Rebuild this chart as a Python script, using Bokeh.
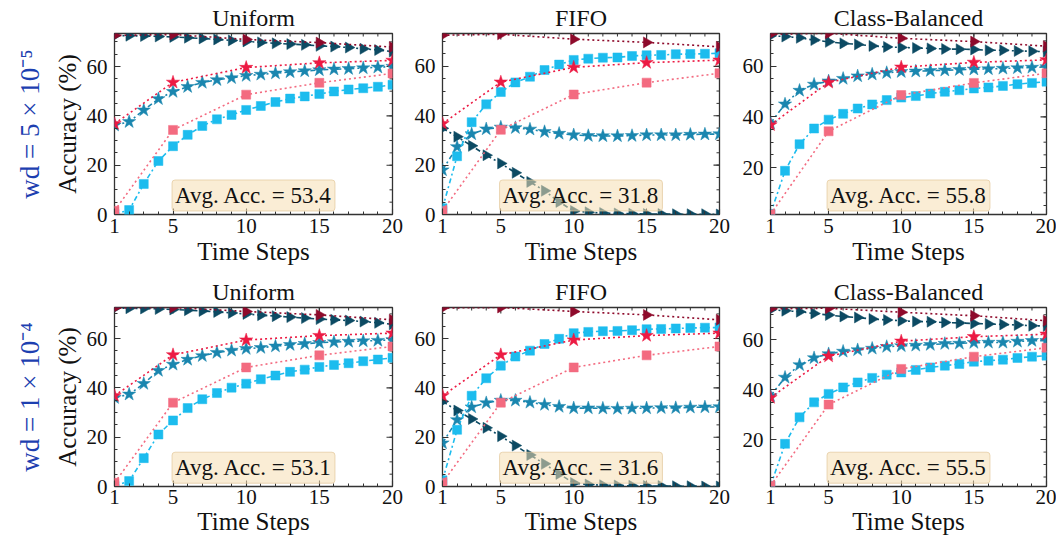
import numpy as np
from bokeh.plotting import figure
from bokeh.layouts import row, column
from bokeh.models import LinearAxis, FixedTicker, Range1d, Label, Title
from bokeh.embed import file_html
from bokeh.resources import INLINE

# ---------------- data ----------------
steps = list(range(1, 21))
ref_steps = [1, 5, 10, 15, 20]
methods = ["Uniform", "FIFO", "Class-Balanced"]
row_labels = ["wd = 5 × 10⁻⁵", "wd = 1 × 10⁻⁴"]
avg_acc = [[53.4, 31.8, 55.8], [53.1, 31.6, 55.5]]
x_ticks = [1, 5, 10, 15, 20]
y_ticks = [0, 20, 40, 60]
y_minor = list(range(0, 75, 5))

# reference curves (dotted, 5 points)
ref_tri_r1 = [72.6, 73.0, 71.0, 69.7, 67.9]
ref_star_r1 = [36.8, 53.6, 59.6, 61.5, 62.5]
ref_sq_r1 = [1.5, 34.3, 48.6, 53.4, 57.2]
ref_tri_r2 = [72.4, 72.6, 71.0, 69.6, 67.6]
ref_star_r2 = [36.8, 53.4, 59.4, 61.2, 62.2]
ref_sq_r2 = [1.5, 34.0, 48.3, 53.2, 56.8]

# row 1 (wd = 5e-5), per step
uni_tri_r1 = [72.5, 72.5, 72.4, 72.2, 72.0, 71.7, 71.4, 71.0, 70.6, 70.2, 69.8, 69.4, 69.1, 68.8, 68.4, 68.1, 67.7, 67.2, 66.7, 66.1]
uni_star_r1 = [36.2, 37.6, 42.3, 46.9, 49.8, 51.8, 53.5, 54.6, 55.4, 56.3, 56.8, 57.3, 57.8, 58.2, 58.6, 58.9, 59.1, 59.4, 59.7, 60.0]
uni_sq_r1 = [0.2, 1.8, 12.4, 21.7, 27.7, 32.3, 35.9, 38.6, 40.4, 42.4, 44.0, 45.6, 47.0, 47.9, 48.9, 49.9, 50.7, 51.2, 51.8, 52.6]
fifo_tri_r1 = [34.9, 31.5, 27.8, 24.0, 20.7, 16.9, 13.2, 9.6, 5.1, 1.4, 0.9, 0.6, 0.4, 0.3, 0.2, 0.2, 0.1, 0.1, 0.1, 0.0]
fifo_star_r1 = [18.0, 27.4, 32.6, 34.6, 35.3, 35.1, 34.5, 33.5, 32.8, 32.2, 31.9, 31.8, 31.8, 31.9, 32.2, 32.2, 32.2, 32.4, 32.5, 32.6]
fifo_sq_r1 = [2.5, 23.6, 37.4, 44.6, 49.6, 53.5, 55.8, 58.5, 60.7, 62.6, 63.1, 63.5, 63.6, 64.2, 64.5, 64.6, 64.9, 65.0, 65.1, 65.3]
cb_tri_r1 = [72.0, 71.7, 71.2, 70.3, 69.6, 69.0, 68.6, 68.0, 67.6, 67.4, 67.2, 67.0, 66.8, 66.7, 66.6, 66.3, 66.3, 66.0, 65.9, 65.7]
cb_star_r1 = [37.5, 45.0, 50.4, 52.8, 54.1, 55.1, 56.1, 56.8, 57.4, 57.8, 58.0, 58.2, 58.4, 58.6, 58.8, 58.9, 59.1, 59.3, 59.5, 59.7]
cb_sq_r1 = [1.7, 18.7, 29.2, 35.4, 38.9, 41.2, 43.3, 44.9, 46.6, 47.6, 48.2, 49.2, 49.9, 50.5, 51.2, 51.6, 52.2, 52.9, 53.4, 53.9]

# row 2 (wd = 1e-4), per step
uni_tri_r2 = [72.3, 72.3, 72.2, 72.0, 71.8, 71.5, 71.2, 70.8, 70.4, 70.0, 69.5, 69.1, 68.7, 68.3, 67.9, 67.6, 67.3, 66.9, 66.4, 65.8]
uni_star_r2 = [36.0, 37.4, 41.7, 47.0, 49.5, 51.5, 53.0, 54.3, 55.2, 55.9, 56.3, 56.9, 57.5, 57.9, 58.3, 58.6, 58.8, 59.0, 59.2, 59.5]
uni_sq_r2 = [0.2, 2.2, 11.5, 21.1, 26.8, 31.8, 35.4, 37.9, 40.1, 41.7, 43.5, 45.0, 46.5, 47.4, 48.5, 49.3, 50.0, 50.8, 51.5, 52.2]
fifo_tri_r2 = [34.5, 30.8, 27.4, 23.8, 20.4, 16.6, 12.8, 9.2, 5.1, 1.4, 0.8, 0.5, 0.4, 0.3, 0.2, 0.2, 0.1, 0.1, 0.0, 0.0]
fifo_star_r2 = [17.6, 27.0, 32.2, 33.9, 34.9, 34.9, 34.1, 33.2, 32.4, 31.8, 31.8, 31.7, 31.6, 31.7, 31.8, 31.9, 31.9, 32.1, 32.2, 32.3]
fifo_sq_r2 = [2.5, 23.0, 36.8, 43.9, 49.0, 52.7, 55.1, 57.8, 59.9, 62.2, 62.7, 63.0, 63.1, 63.4, 63.8, 63.9, 64.1, 64.3, 64.4, 64.5]
cb_tri_r2 = [72.0, 71.6, 71.2, 70.5, 69.9, 69.3, 68.9, 68.3, 67.9, 67.6, 67.3, 67.2, 66.9, 66.7, 66.5, 66.3, 66.1, 65.9, 65.6, 65.5]
cb_star_r2 = [37.5, 44.9, 49.9, 52.7, 54.3, 55.3, 55.9, 56.5, 57.2, 57.5, 57.7, 58.0, 58.4, 58.5, 58.8, 58.9, 58.9, 59.3, 59.6, 59.6]
cb_sq_r2 = [1.5, 18.3, 28.9, 34.9, 38.3, 40.9, 42.9, 44.7, 46.0, 46.9, 47.9, 48.9, 49.6, 50.3, 51.2, 51.6, 52.0, 52.7, 53.2, 53.6]

# axis limits per panel
ylims = [[(0, 73.4), (0, 73.3), (1.45, 72.9)],
         [(0, 72.6), (0, 72.6), (1.2, 72.9)]]

# --------------- styling ---------------
FONT = "Liberation Serif"
C_REF_TRI = "#8E0A2B"
C_REF_STAR = "#EC1A43"
C_REF_SQ = "#F36B80"
C_TRI = "#0C4A63"
C_STAR = "#1A86AF"
C_SQ = "#1CBCEE"
SPINE = "#333333"
DOT = "2 3"
DASHDOT = "5 3 2 3"

per_step = [
    [(uni_tri_r1, uni_star_r1, uni_sq_r1), (fifo_tri_r1, fifo_star_r1, fifo_sq_r1), (cb_tri_r1, cb_star_r1, cb_sq_r1)],
    [(uni_tri_r2, uni_star_r2, uni_sq_r2), (fifo_tri_r2, fifo_star_r2, fifo_sq_r2), (cb_tri_r2, cb_star_r2, cb_sq_r2)],
]
refs = [(ref_tri_r1, ref_star_r1, ref_sq_r1), (ref_tri_r2, ref_star_r2, ref_sq_r2)]

LEFT = [114, 34, 35]
RIGHT = [16, 16, 10]
FRAME_W = [278, 277, 276]
TOP = [33, 33]
FRAME_H = [181, 179]
BOTTOM = [60, 56]


def style_axis(ax):
    ax.axis_line_color = None
    ax.major_tick_in = 6
    ax.major_tick_out = 0
    ax.minor_tick_in = 3
    ax.minor_tick_out = 0
    ax.major_tick_line_color = SPINE
    ax.minor_tick_line_color = SPINE
    ax.major_tick_line_width = 1.1
    ax.minor_tick_line_width = 1.0
    ax.major_label_text_font = FONT
    ax.major_label_text_font_size = "21px"
    ax.major_label_text_color = "#111111"
    ax.axis_label_text_font = FONT
    ax.axis_label_text_font_style = "normal"
    ax.axis_label_text_font_size = "25px"
    ax.axis_label_text_color = "#111111"


def draw_series(p, xs, ys, color, dash, marker, size, angle=0.0):
    p.line(xs, ys, line_color=color, line_width=1.6, line_dash=dash)
    p.scatter(xs, ys, marker=marker, size=size, angle=angle,
              fill_color=color, line_color=color, line_width=0.5)


def make_panel(r, c):
    ylo, yhi = ylims[r][c]
    width = LEFT[c] + FRAME_W[c] + RIGHT[c]
    height = TOP[r] + FRAME_H[r] + BOTTOM[r]
    p = figure(width=width, height=height, x_range=Range1d(1, 20), y_range=Range1d(ylo, yhi),
               output_backend="svg", toolbar_location=None,
               x_axis_type=None, y_axis_type=None,
               min_border_left=LEFT[c], min_border_right=RIGHT[c],
               min_border_top=TOP[r], min_border_bottom=BOTTOM[r])
    p.outline_line_color = SPINE
    p.outline_line_width = 1.3
    p.background_fill_color = "white"
    p.border_fill_color = "white"

    p.title.text = methods[c]
    p.title.align = "center"
    p.title.text_font = FONT
    p.title.text_font_size = "24px"
    p.title.text_font_style = "normal"
    p.title.text_color = "#111111"
    p.title.standoff = 5

    xt = FixedTicker(ticks=x_ticks, minor_ticks=steps)
    yt = FixedTicker(ticks=y_ticks, minor_ticks=y_minor)

    bx = LinearAxis(ticker=xt, axis_label="Time Steps")
    style_axis(bx)
    if r == 0:
        bx.major_label_standoff = 4
        bx.axis_label_standoff = 2
    else:
        bx.major_label_standoff = 3
        bx.axis_label_standoff = 1
    p.add_layout(bx, "below")

    ly = LinearAxis(ticker=yt)
    style_axis(ly)
    ly.major_label_standoff = 7
    if c == 0:
        ly.axis_label = "Accuracy (%)"
        ly.axis_label_standoff = 3
    p.add_layout(ly, "left")

    if c == 0:
        t = Title(text=row_labels[r], align="center", text_font=FONT,
                  text_font_size="27px", text_font_style="normal",
                  text_color="#1d3fb0", standoff=11)
        p.add_layout(t, "left")

    # inward ticks on the top and right edges (clipped half-dashes at the frame edge)
    p.scatter([20] * len(y_ticks), y_ticks, marker="dash", size=12, line_color=SPINE, line_width=1.1)
    p.scatter([20] * len(y_minor), y_minor, marker="dash", size=6, line_color=SPINE, line_width=1.0)
    p.scatter(x_ticks, [yhi] * len(x_ticks), marker="dash", angle=np.pi / 2, size=12, line_color=SPINE, line_width=1.1)
    p.scatter(steps, [yhi] * len(steps), marker="dash", angle=np.pi / 2, size=6, line_color=SPINE, line_width=1.0)

    tri, star, sq = per_step[r][c]
    draw_series(p, steps, tri, C_TRI, DASHDOT, "triangle", 11, angle=-np.pi / 2)
    draw_series(p, steps, star, C_STAR, DASHDOT, "star", 14)
    draw_series(p, steps, sq, C_SQ, DASHDOT, "square", 9)

    rtri, rstar, rsq = refs[r]
    draw_series(p, ref_steps, rtri, C_REF_TRI, DOT, "triangle", 11, angle=-np.pi / 2)
    draw_series(p, ref_steps, rstar, C_REF_STAR, DOT, "star", 14)
    draw_series(p, ref_steps, rsq, C_REF_SQ, DOT, "square", 9)

    lab = Label(x=10.5, y=ylo + 0.105 * (yhi - ylo), text=f"Avg. Acc. = {avg_acc[r][c]}",
                text_align="center", text_baseline="middle",
                text_font=FONT, text_font_size="23px", text_color="#111111",
                background_fill_color="#F5DEB3", background_fill_alpha=0.55,
                border_line_color="#E2C89A", border_line_alpha=0.7, border_line_width=1,
                padding=3, border_radius=3)
    p.add_layout(lab)
    return p


rows = []
for r in range(2):
    rows.append(row(*[make_panel(r, c) for c in range(3)], spacing=0))
layout = column(*rows, spacing=0)

open("out.html", "w").write(file_html(layout, INLINE))
